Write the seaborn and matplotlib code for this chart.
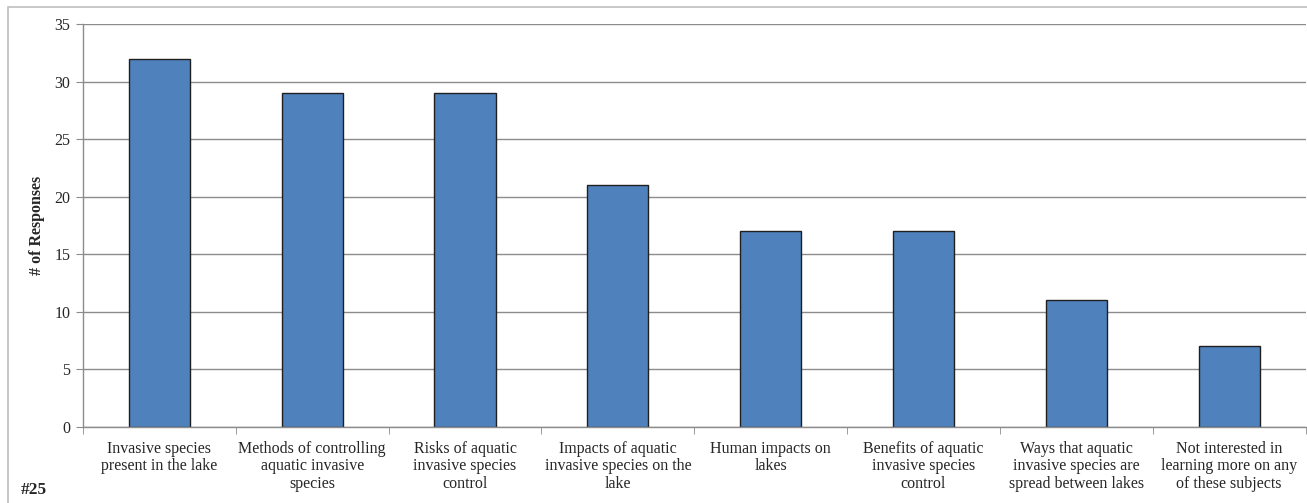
import matplotlib
matplotlib.use("Agg")
import matplotlib.pyplot as plt
import seaborn as sns
import pandas as pd
from matplotlib.patches import Rectangle

# data
categories = [
    "Invasive species\npresent in the lake",
    "Methods of controlling\naquatic invasive\nspecies",
    "Risks of aquatic\ninvasive species\ncontrol",
    "Impacts of aquatic\ninvasive species on the\nlake",
    "Human impacts on\nlakes",
    "Benefits of aquatic\ninvasive species\ncontrol",
    "Ways that aquatic\ninvasive species are\nspread between lakes",
    "Not interested in\nlearning more on any\nof these subjects",
]
responses = [32, 29, 29, 21, 17, 17, 11, 7]
y_ticks = [0, 5, 10, 15, 20, 25, 30, 35]

df = pd.DataFrame({"category": categories, "responses": responses})

sns.set_style("white")
plt.rcParams["font.family"] = ["Liberation Serif", "DejaVu Serif"]

fig = plt.figure(figsize=(13.07, 5.03), dpi=100)
ax = fig.add_axes([83 / 1307, 1 - 427 / 503, (1305.5 - 83) / 1307, (427 - 24) / 503])

sns.barplot(data=df, x="category", y="responses", color="#4F81BD",
            saturation=1, width=0.4, edgecolor="#1F1F1F", linewidth=1, ax=ax)

ax.set_ylim(0, 35)
ax.set_yticks(y_ticks)
ax.set_xlim(-0.5, len(categories) - 0.5)
ax.yaxis.grid(True, color="#8C8C8C", linewidth=1)
ax.set_axisbelow(True)
for s in ["top", "right"]:
    ax.spines[s].set_visible(False)
for s in ["left", "bottom"]:
    ax.spines[s].set_color("#8C8C8C")
    ax.spines[s].set_linewidth(1)

ax.tick_params(axis="y", length=5, color="#8C8C8C", labelsize=11.5, left=True, pad=4)
ax.set_xticks(range(len(categories)))
ax.set_xticklabels(categories, fontsize=11.5, linespacing=1.12)
ax.tick_params(axis="x", length=0, pad=10)
# minor ticks between categories
ax.set_xticks([i + 0.5 for i in range(-1, len(categories))], minor=True)
ax.tick_params(axis="x", which="minor", length=5, color="#8C8C8C", bottom=True)

ax.set_xlabel("")
ax.set_ylabel("# of Responses", fontsize=11.5, fontweight="bold", labelpad=7)

fig.text(21 / 1307, 1 - 490 / 503, "#25", fontsize=12.5, fontweight="bold",
         va="center", ha="left")

# outer chart border
fig.patches.append(Rectangle((8 / 1307, -0.2), 1.2, 1.2 - 6.5 / 503,
                             transform=fig.transFigure, fill=False,
                             edgecolor="#BFBFBF", linewidth=1.2, clip_on=False))

fig.savefig("out.png", dpi=100)
